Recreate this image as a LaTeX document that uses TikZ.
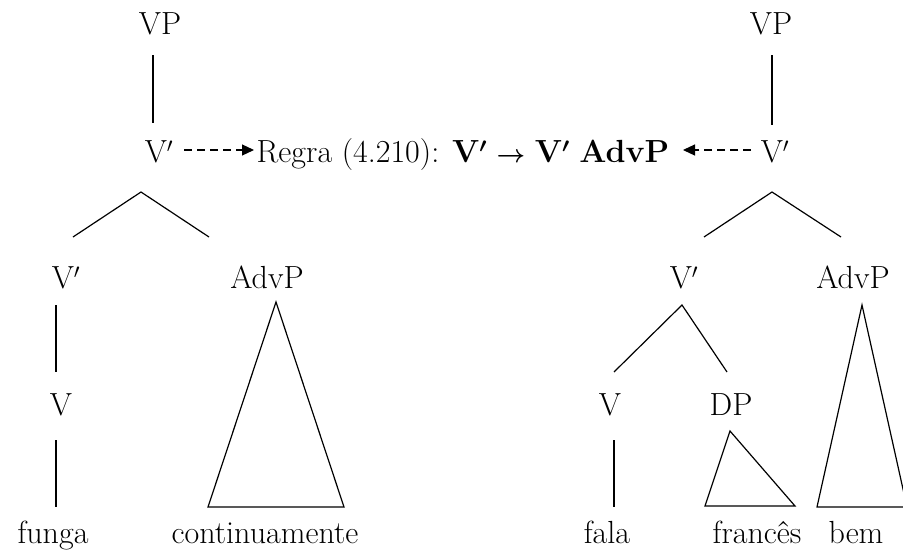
\documentclass[tikz,border=0pt]{standalone}
\usepackage{fontspec}
\usetikzlibrary{arrows.meta}
\tikzset{
  lbl/.style={inner sep=0pt, anchor=base, font=\fontsize{32}{38}\selectfont},
  br/.style={line width=1.2pt},
  dasharrow/.style={line width=1.2pt, dash pattern=on 8pt off 5pt, -{Triangle[length=12pt,width=11pt]}},
}
\newcommand{\pr}{$'$}
\newcommand{\bpr}{{\boldmath$'$}}
\begin{document}
\begin{tikzpicture}[x=1pt,y=-1pt]
\path[use as bounding box] (0,0) rectangle (903,552);
\clip (0,0) rectangle (903,552);
% left tree
\node[lbl] (VPl) at (160,34) {VP};
\node[lbl] (V1l) at (159,162) {V\pr};
\node[lbl] (rule) at (463,162) {Regra (4.210): \textbf{V}\bpr{} {\boldmath$\rightarrow$} \textbf{V}\bpr{} \textbf{AdvP}};
\node[lbl] (VPr) at (771,34) {VP};
\node[lbl] (V1r) at (775,162) {V\pr};
\draw[br] (153,55) coordinate (a1) -- (153,123) coordinate (a2);
\draw[br] (772,55) coordinate (b1) -- (772,125) coordinate (b2);
\coordinate (dl1) at (184,150); \coordinate (dl2) at (254,150);
\coordinate (dr1) at (751,150); \coordinate (dr2) at (683,150);
\draw[dasharrow] (dl1) -- (dl2);
\draw[dasharrow] (dr1) -- (dr2);
% left branching
\coordinate (la) at (141,192);
\draw[br] (73,237) -- (la) -- (209,237);
\node[lbl] (V2l) at (66,288) {V\pr};
\node[lbl] (Al) at (267,288) {AdvP};
\draw[br] (56,305) -- (56,372);
\node[lbl] (Vl) at (61,415) {V};
\draw[br] (56,440) -- (56,507);
\node[lbl] (funga) at (53,543) {funga};
\draw[br] (276,302) -- (208,507) -- (344,507) -- cycle;
\node[lbl] (cont) at (265,543) {continuamente};
% right branching
\coordinate (ra) at (772,192);
\draw[br] (704,237) -- (ra) -- (841,237);
\node[lbl] (V2r) at (684,288) {V\pr};
\node[lbl] (Ar) at (853,288) {AdvP};
\coordinate (rb) at (682,305);
\draw[br] (614,372) -- (rb) -- (727,372);
\node[lbl] (Vr) at (610,415) {V};
\node[lbl] (DP) at (731,415) {DP};
\draw[br] (614,440) -- (614,507);
\draw[br] (730,431) -- (705,506) -- (795,506) -- cycle;
\draw[br] (862,305) -- (817,507) -- (907,507) -- cycle;
\node[lbl] (fala) at (607,543) {fala};
\node[lbl] (fr) at (757,543) {francês};
\node[lbl] (bem) at (856,543) {bem};
\end{tikzpicture}
\end{document}
